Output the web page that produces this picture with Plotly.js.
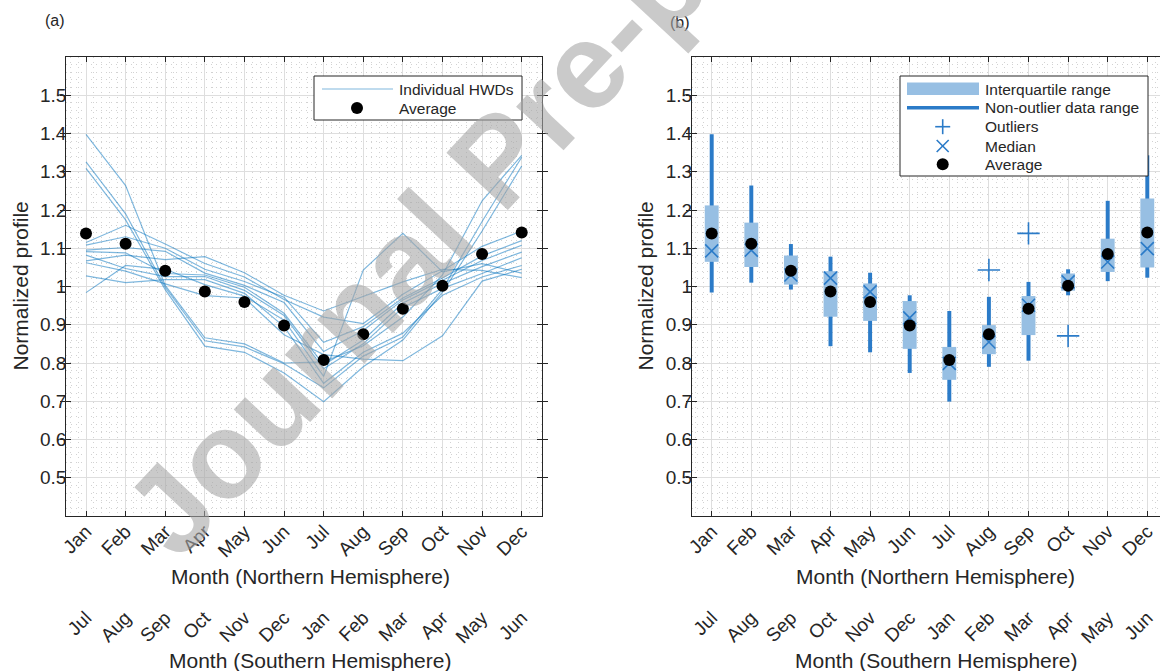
<!DOCTYPE html>
<html>
<head>
<meta charset="utf-8">
<script src="https://cdn.plot.ly/plotly-3.0.1.min.js"></script>
<style>
  html, body { margin: 0; padding: 0; overflow: hidden; background: #ffffff; }
  #chart { width: 1180px; height: 671px; }
</style>
</head>
<body>
<div id="chart"></div>
<script>
// Month positions and labels (northern / southern hemisphere seasons)
const months = [1, 2, 3, 4, 5, 6, 7, 8, 9, 10, 11, 12];
const monthsNorth = ['Jan', 'Feb', 'Mar', 'Apr', 'May', 'Jun', 'Jul', 'Aug', 'Sep', 'Oct', 'Nov', 'Dec'];
const monthsSouth = ['Jul', 'Aug', 'Sep', 'Oct', 'Nov', 'Dec', 'Jan', 'Feb', 'Mar', 'Apr', 'May', 'Jun'];
const yTickVals = [0.5, 0.6, 0.7, 0.8, 0.9, 1.0, 1.1, 1.2, 1.3, 1.4, 1.5];
const yTickText = ['0.5', '0.6', '0.7', '0.8', '0.9', '1', '1.1', '1.2', '1.3', '1.4', '1.5'];

// Normalized monthly profiles of the individual HWDs
const hwd01 = [1.398, 1.264, 1.003, 0.866, 0.850, 0.800, 0.803, 0.845, 0.920, 1.030, 1.224, 1.343];
const hwd02 = [1.326, 1.190, 0.998, 0.858, 0.842, 0.798, 0.735, 0.818, 0.868, 0.993, 1.170, 1.338];
const hwd03 = [1.309, 1.174, 0.992, 0.844, 0.828, 0.774, 0.699, 0.790, 0.860, 0.985, 1.145, 1.315];
const hwd04 = [0.984, 1.055, 1.045, 1.005, 0.975, 0.912, 0.765, 1.043, 1.139, 1.038, 1.060, 1.035];
const hwd05 = [1.062, 1.040, 1.007, 0.976, 0.970, 0.874, 0.822, 0.810, 0.806, 0.871, 1.014, 1.045];
const hwd06 = [1.067, 1.082, 1.070, 1.078, 1.036, 0.977, 0.936, 0.973, 1.012, 1.045, 1.042, 1.023];
const hwd07 = [1.115, 1.160, 1.111, 1.060, 1.025, 0.966, 0.920, 0.903, 0.980, 1.041, 1.105, 1.145];
const hwd08 = [1.108, 1.130, 1.100, 1.045, 1.013, 0.972, 0.854, 0.895, 0.970, 1.022, 1.080, 1.120];
const hwd09 = [1.095, 1.102, 1.092, 1.035, 1.003, 0.958, 0.830, 0.885, 0.965, 1.016, 1.068, 1.108];
const hwd10 = [1.091, 1.088, 1.034, 1.030, 0.998, 0.930, 0.795, 0.860, 0.957, 1.008, 1.052, 1.090];
const hwd11 = [1.082, 1.047, 1.026, 1.026, 0.990, 0.924, 0.785, 0.850, 0.945, 0.995, 1.034, 1.075];
const hwd12 = [1.028, 1.010, 1.018, 1.018, 0.982, 0.895, 0.747, 0.828, 0.878, 0.977, 1.025, 1.055];

const series = [hwd01, hwd02, hwd03, hwd04, hwd05, hwd06, hwd07, hwd08, hwd09, hwd10, hwd11, hwd12];

// ---- statistics per month (quartiles, whiskers at 1.5 IQR, outliers) ----
function prctile(sorted, p) {
  const n = sorted.length;
  const pos = n * p / 100 + 0.5;
  if (pos <= 1) return sorted[0];
  if (pos >= n) return sorted[n - 1];
  const lo = Math.floor(pos);
  const f = pos - lo;
  return sorted[lo - 1] + f * (sorted[lo] - sorted[lo - 1]);
}

const average = months.map((m, i) => series.reduce((s, a) => s + a[i], 0) / series.length);
const stats = months.map((m, i) => {
  const v = series.map(a => a[i]).sort((a, b) => a - b);
  const q1 = prctile(v, 25), q3 = prctile(v, 75), med = prctile(v, 50);
  const iqr = q3 - q1;
  const lf = q1 - 1.5 * iqr, uf = q3 + 1.5 * iqr;
  const inside = v.filter(x => x >= lf && x <= uf);
  return { q1, q3, med, lo: Math.min(...inside), hi: Math.max(...inside),
           out: v.filter(x => x < lf || x > uf) };
});
const outX = [], outY = [];
stats.forEach((s, i) => s.out.forEach(v => { outX.push(months[i]); outY.push(v); }));

// ---- styling ----
const W = 1180, H = 671;
const px = v => v / W;
const py = v => 1 - v / H;
const FONT = 'Liberation Sans, Arial, Helvetica, sans-serif';
const INK = '#262626';
const LINE_BLUE = 'rgba(0,114,189,0.5)';
const BLUE = '#2b7bc8';
const IQR_BLUE = '#97bfe3';

const traces = [];
// panel (a): individual profiles and their average
series.forEach(s => traces.push({
  type: 'scatter', mode: 'lines', x: months, y: s, xaxis: 'x', yaxis: 'y',
  line: { color: LINE_BLUE, width: 1.2 }, hoverinfo: 'skip'
}));
traces.push({
  type: 'scatter', mode: 'markers', x: months, y: average, xaxis: 'x3', yaxis: 'y',
  marker: { color: '#000000', size: 12 }
});

// panel (b): box summary
traces.push({
  type: 'bar', x: months, base: stats.map(s => s.lo), y: stats.map(s => s.hi - s.lo),
  width: 0.1, xaxis: 'x2', yaxis: 'y2', marker: { color: BLUE, line: { width: 0 } }
});
traces.push({
  type: 'bar', x: months, base: stats.map(s => s.q1), y: stats.map(s => s.q3 - s.q1),
  width: 0.35, xaxis: 'x2', yaxis: 'y2', marker: { color: IQR_BLUE, line: { width: 0 } }
});
traces.push({
  type: 'scatter', mode: 'markers', x: months, y: stats.map(s => s.med), xaxis: 'x2', yaxis: 'y2',
  marker: { symbol: 'x-thin-open', size: 13, color: BLUE, line: { width: 1.6, color: BLUE } }
});
traces.push({
  type: 'scatter', mode: 'markers', x: outX, y: outY, xaxis: 'x2', yaxis: 'y2',
  marker: { symbol: 'cross-thin-open', size: 16, color: BLUE, line: { width: 1.6, color: BLUE } }
});
traces.push({
  type: 'scatter', mode: 'markers', x: months, y: average, xaxis: 'x4', yaxis: 'y2',
  marker: { color: '#000000', size: 12 }
});

const tickFont = { family: FONT, size: 19, color: INK };
const MINOR_GRID = '#d2d2d2';

function xMain(domain, anchor) {
  return {
    domain, anchor, range: [0.5, 12.5], automargin: false,
    tickmode: 'array', tickvals: months, ticktext: monthsNorth, tickangle: -45,
    ticks: 'inside', ticklen: 5, tickcolor: INK, tickwidth: 1, ticklabelstandoff: -4,
    showline: true, linecolor: INK, linewidth: 1, mirror: 'allticks',
    showgrid: true, gridcolor: '#dedede', gridwidth: 1, zeroline: false,
    minor: { tick0: 0, dtick: 0.2, showgrid: true, gridcolor: MINOR_GRID, griddash: '1px,4px', ticks: '' },
    tickfont: tickFont
  };
}
function yMain(anchor) {
  return {
    domain: [py(516), py(57)], anchor, range: [0.4, 1.6], automargin: false,
    tickmode: 'array', tickvals: yTickVals, ticktext: yTickText,
    ticks: 'inside', ticklen: 5, tickcolor: INK, tickwidth: 1, ticklabelstandoff: -5,
    showline: true, linecolor: INK, linewidth: 1, mirror: 'allticks',
    showgrid: true, gridcolor: '#dedede', gridwidth: 1, zeroline: false,
    minor: { tick0: 0, dtick: 0.02, showgrid: true, gridcolor: MINOR_GRID, griddash: '1px,4px', ticks: '' },
    tickfont: tickFont
  };
}
function xSouth(over) {
  return {
    overlaying: over, anchor: 'free', position: 0.1028, side: 'bottom',
    range: [0.5, 12.5], automargin: false,
    tickmode: 'array', tickvals: months, ticktext: monthsSouth, tickangle: -45,
    ticks: '', showline: false, showgrid: false, zeroline: false,
    tickfont: tickFont
  };
}

const shapes = [];
const annotations = [];
function label(text, x, y, opts) {
  annotations.push(Object.assign({ xref: 'paper', yref: 'paper', x: px(x), y: py(y),
    xanchor: 'center', yanchor: 'middle', text, showarrow: false,
    font: { family: FONT, size: 21, color: INK } }, opts || {}));
}

// axis titles
label('Normalized profile', 20, 286.5, { textangle: -90 });
label('Normalized profile', 645, 286.5, { textangle: -90 });
label('Month (Northern Hemisphere)', 310, 576);
label('Month (Northern Hemisphere)', 935.5, 576);
label('Month (Southern Hemisphere)', 310, 660);
label('Month (Southern Hemisphere)', 935.5, 660);

// ---- legends ----
function legendText(text, x, y) {
  label(text, x, y, { xanchor: 'left', font: { family: FONT, size: 15.5, color: INK } });
}
function box(x0, y0, x1, y1) {
  shapes.push({ type: 'rect', xref: 'paper', yref: 'paper', x0: px(x0), x1: px(x1), y0: py(y1), y1: py(y0),
    fillcolor: '#ffffff', line: { color: INK, width: 1 }, layer: 'above' });
}
function dot(cx, cy, r) {
  shapes.push({ type: 'circle', xref: 'paper', yref: 'paper', x0: px(cx - r), x1: px(cx + r), y0: py(cy + r), y1: py(cy - r),
    fillcolor: '#000000', line: { width: 0 }, layer: 'above' });
}
function seg(x0, y0, x1, y1, color, width) {
  shapes.push({ type: 'line', xref: 'paper', yref: 'paper', x0: px(x0), x1: px(x1), y0: py(y0), y1: py(y1),
    line: { color, width }, layer: 'above' });
}

// panel (a)
box(314, 76, 522, 120);
seg(322, 89, 393, 89, LINE_BLUE, 1.2);
dot(357, 108, 6);
legendText('Individual HWDs', 397, 89);
legendText('Average', 397, 108);

// panel (b)
box(900, 76, 1148, 176);
shapes.push({ type: 'rect', xref: 'paper', yref: 'paper', x0: px(907), x1: px(979), y0: py(95), y1: py(82.5),
  fillcolor: IQR_BLUE, line: { width: 0 }, layer: 'above' });
seg(907, 107.7, 979, 107.7, BLUE, 3.5);
seg(935.2, 126.7, 950.2, 126.7, BLUE, 1.6);
seg(942.7, 119.2, 942.7, 134.2, BLUE, 1.6);
seg(936.7, 140, 948.7, 152, BLUE, 1.6);
seg(936.7, 152, 948.7, 140, BLUE, 1.6);
dot(942.7, 164.3, 6);
legendText('Interquartile range', 983, 89);
legendText('Non-outlier data range', 983, 107.7);
legendText('Outliers', 983, 126.7);
legendText('Median', 983, 146);
legendText('Average', 983, 164.3);

// panel tags
label('(a)', 55, 21, { font: { family: FONT, size: 16, color: INK } });
label('(b)', 680, 22, { font: { family: FONT, size: 16, color: INK } });

// proof watermark across the figure
label('<b>Journal Pre-proof</b>', 497, 160, { textangle: -47,
  font: { family: FONT, size: 122, color: 'rgba(167,167,167,0.6)' } });

const layout = {
  width: W, height: H, margin: { l: 0, r: 0, t: 0, b: 0 },
  paper_bgcolor: '#ffffff', plot_bgcolor: '#ffffff',
  font: { family: FONT, color: INK }, showlegend: false, barmode: 'overlay',
  xaxis: xMain([px(66.2), px(541.5)], 'y'),
  yaxis: yMain('x'),
  xaxis2: xMain([px(691.9), px(1167.1)], 'y2'),
  yaxis2: yMain('x2'),
  xaxis3: xSouth('x'),
  xaxis4: xSouth('x2'),
  shapes, annotations
};

Plotly.newPlot('chart', traces, layout, { displayModeBar: false, staticPlot: true });
</script>
</body>
</html>
